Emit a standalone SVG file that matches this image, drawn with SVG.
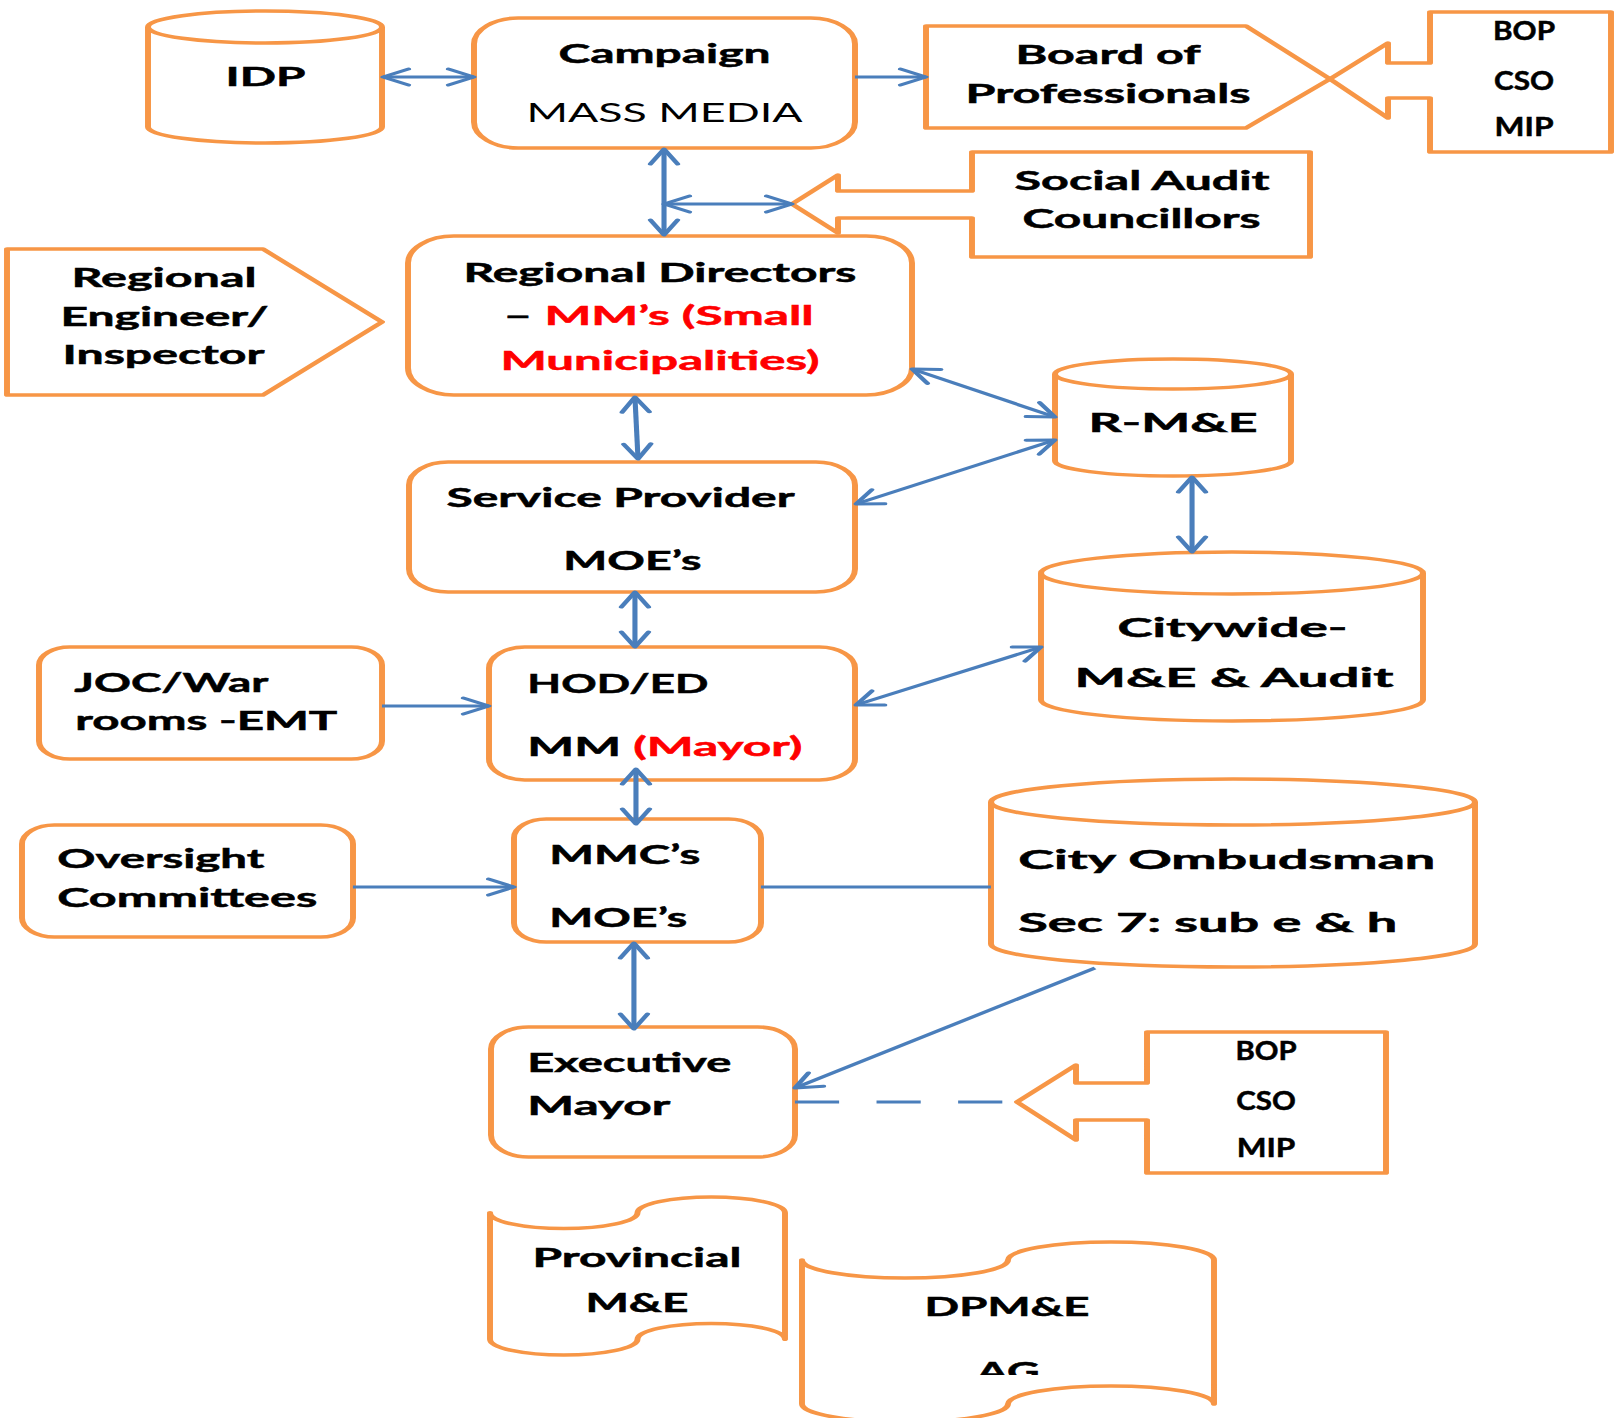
<svg xmlns="http://www.w3.org/2000/svg" width="1614" height="1418" viewBox="0 0 1614 1418">
<style>
.sh{fill:#ffffff;stroke:#f79646;stroke-width:3.5;stroke-linejoin:round}
.ln{fill:none;stroke:#f79646;stroke-width:3.5}
.t{font-family:Lato,"Open Sans","Liberation Sans",sans-serif;font-weight:bold;fill:#000000;stroke:#000000;stroke-width:0.5;font-size:27px}
.m{text-anchor:middle}
.r{fill:#ff0000;stroke:#ff0000}
.c{fill:none;stroke:#4a7ebb;stroke-width:3}
.dbl{marker-start:url(#ah);marker-end:url(#ah)}
.one{marker-end:url(#ah)}
</style>
<defs>
<marker id="ah" viewBox="-17 -10 19 20" refX="0" refY="0" markerWidth="19" markerHeight="20" markerUnits="userSpaceOnUse" orient="auto-start-reverse">
<path d="M-15,-8 L0,0 L-15,8" fill="none" stroke="#4a7ebb" stroke-width="3" stroke-linecap="round" stroke-linejoin="round"/>
</marker>
<clipPath id="agclip"><rect x="400" y="1330" width="400" height="45"/></clipPath>
</defs>
<rect x="0" y="0" width="1614" height="1418" fill="#ffffff"/>
<g transform="scale(1.7 1)">
<g id="idp">
<path class="sh" d="M87.06,27 L87.06,127 A68.82,16 0 0 0 224.71,127 L224.71,27 A68.82,16 0 0 0 87.06,27 Z"/>
<path class="ln" d="M87.06,27 A68.82,16 0 0 0 224.71,27"/>
<text class="t m" x="156.2" y="86.5" font-size="32" textLength="47" lengthAdjust="spacingAndGlyphs">IDP</text>
</g>
<g id="campaign">
<rect class="sh" x="278.82" y="18" width="224.12" height="130" rx="26" ry="26"/>
<text class="t m" x="390.9" y="63" textLength="124.7" lengthAdjust="spacingAndGlyphs">Campaign</text>
<text class="t m" x="390.9" y="122" font-size="26" style="font-weight:normal;stroke:none" textLength="162.4" lengthAdjust="spacingAndGlyphs">MASS MEDIA</text>
</g>
<g id="board">
<path class="sh" d="M544.71,26 L732.94,26 L782.35,79 L732.94,128 L544.71,128 Z"/>
<text class="t m" x="651.8" y="64" textLength="108.8" lengthAdjust="spacingAndGlyphs">Board of</text>
<text class="t m" x="651.8" y="103" textLength="167.6" lengthAdjust="spacingAndGlyphs">Professionals</text>
</g>
<g id="bop-top">
<path class="sh" d="M841.18,12 L947.65,12 L947.65,152 L841.18,152 L841.18,98 L816.47,98 L816.47,118 L782.35,79 L816.47,43 L816.47,63 L841.18,63 Z"/>
<text class="t m" x="896.5" y="40" font-size="20" textLength="36.5" lengthAdjust="spacingAndGlyphs">BOP</text>
<text class="t m" x="896.5" y="90" font-size="20" textLength="35.3" lengthAdjust="spacingAndGlyphs">CSO</text>
<text class="t m" x="896.5" y="136" font-size="20" textLength="34.7" lengthAdjust="spacingAndGlyphs">MIP</text>
</g>
<g id="social-audit">
<path class="sh" d="M571.76,152 L770.59,152 L770.59,257 L571.76,257 L571.76,218 L492.94,218 L492.94,233 L465.88,204 L492.94,175 L492.94,191 L571.76,191 Z"/>
<text class="t m" x="671.8" y="190" textLength="150" lengthAdjust="spacingAndGlyphs">Social Audit</text>
<text class="t m" x="671.5" y="228" textLength="140" lengthAdjust="spacingAndGlyphs">Councillors</text>
</g>
<g id="regional-engineer">
<path class="sh" d="M4.12,249 L154.71,249 L224.71,322 L154.71,395 L4.12,395 Z"/>
<text class="t m" x="96.5" y="287" textLength="108.8" lengthAdjust="spacingAndGlyphs">Regional</text>
<text class="t m" x="96.8" y="326" textLength="122.4" lengthAdjust="spacingAndGlyphs">Engineer/</text>
<text class="t m" x="96.2" y="364" textLength="118.8" lengthAdjust="spacingAndGlyphs">Inspector</text>
</g>
<g id="regional-directors">
<rect class="sh" x="240" y="236" width="296.47" height="159" rx="27" ry="27"/>
<text class="t m" x="388.2" y="282" font-size="26" textLength="231.2" lengthAdjust="spacingAndGlyphs">Regional Directors</text>
<text class="t m" x="387.4" y="325" font-size="26" textLength="182.4" lengthAdjust="spacingAndGlyphs">– <tspan class="r">MM’s (Small</tspan></text>
<text class="t m r" x="388.2" y="370" font-size="26" textLength="187.6" lengthAdjust="spacingAndGlyphs">Municipalities)</text>
</g>
<g id="service-provider">
<rect class="sh" x="240.59" y="462" width="262.35" height="130" rx="23" ry="23"/>
<text class="t m" x="365" y="507" font-size="26" textLength="204.7" lengthAdjust="spacingAndGlyphs">Service Provider</text>
<text class="t m" x="372" y="570" textLength="81.2" lengthAdjust="spacingAndGlyphs">MOE’s</text>
</g>
<g id="r-me">
<path class="sh" d="M620.59,374 L620.59,461 A69.41,15 0 0 0 759.41,461 L759.41,374 A69.41,15 0 0 0 620.59,374 Z"/>
<path class="ln" d="M620.59,374 A69.41,15 0 0 0 759.41,374"/>
<text class="t m" x="690" y="432" font-size="30" textLength="99.4" lengthAdjust="spacingAndGlyphs">R-M&amp;E</text>
</g>
<g id="citywide">
<path class="sh" d="M612.35,573 L612.35,700 A112.35,21 0 0 0 837.06,700 L837.06,573 A112.35,21 0 0 0 612.35,573 Z"/>
<path class="ln" d="M612.35,573 A112.35,21 0 0 0 837.06,573"/>
<text class="t m" x="725" y="637" font-size="29" textLength="135.3" lengthAdjust="spacingAndGlyphs">Citywide-</text>
<text class="t m" x="725.9" y="687" font-size="29" textLength="187.6" lengthAdjust="spacingAndGlyphs">M&amp;E &amp; Audit</text>
</g>
<g id="joc">
<rect class="sh" x="22.94" y="647" width="201.77" height="112" rx="18" ry="18"/>
<text class="t" x="43.7" y="692" textLength="114.1" lengthAdjust="spacingAndGlyphs">JOC/War</text>
<text class="t" x="44.3" y="730" textLength="154.1" lengthAdjust="spacingAndGlyphs">rooms -EMT</text>
</g>
<g id="hod">
<rect class="sh" x="287.65" y="647" width="215.29" height="133" rx="21" ry="21"/>
<text class="t" x="310.2" y="693" textLength="106.5" lengthAdjust="spacingAndGlyphs">HOD/ED</text>
<text class="t" x="310.2" y="756" textLength="161.8" lengthAdjust="spacingAndGlyphs">MM <tspan class="r">(Mayor)</tspan></text>
</g>
<g id="mmc">
<rect class="sh" x="302.35" y="819" width="145.3" height="123" rx="19" ry="19"/>
<text class="t" x="323.1" y="864" textLength="88.8" lengthAdjust="spacingAndGlyphs">MMC’s</text>
<text class="t" x="323.1" y="927" textLength="81.2" lengthAdjust="spacingAndGlyphs">MOE’s</text>
</g>
<g id="oversight">
<rect class="sh" x="12.94" y="825" width="194.71" height="112" rx="19" ry="19"/>
<text class="t" x="33.7" y="868" font-size="26" textLength="121.8" lengthAdjust="spacingAndGlyphs">Oversight</text>
<text class="t" x="33.7" y="907" font-size="26" textLength="152.9" lengthAdjust="spacingAndGlyphs">Committees</text>
</g>
<g id="ombudsman">
<path class="sh" d="M582.94,802 L582.94,944 A142.35,23 0 0 0 867.65,944 L867.65,802 A142.35,23 0 0 0 582.94,802 Z"/>
<path class="ln" d="M582.94,802 A142.35,23 0 0 0 867.65,802"/>
<text class="t" x="599" y="869" font-size="30" textLength="245.3" lengthAdjust="spacingAndGlyphs">City Ombudsman</text>
<text class="t" x="599" y="932" font-size="30" textLength="222.9" lengthAdjust="spacingAndGlyphs">Sec 7: sub e &amp; h</text>
</g>
<g id="executive-mayor">
<rect class="sh" x="288.82" y="1027" width="178.83" height="130" rx="22" ry="22"/>
<text class="t" x="310.2" y="1072" textLength="120" lengthAdjust="spacingAndGlyphs">Executive</text>
<text class="t" x="310.2" y="1115" textLength="84.1" lengthAdjust="spacingAndGlyphs">Mayor</text>
</g>
<g id="bop-bottom">
<path class="sh" d="M674.71,1032 L815.29,1032 L815.29,1173 L674.71,1173 L674.71,1120 L632.94,1120 L632.94,1140 L598.24,1102 L632.94,1065 L632.94,1083 L674.71,1083 Z"/>
<text class="t m" x="744.7" y="1060" font-size="20" textLength="36" lengthAdjust="spacingAndGlyphs">BOP</text>
<text class="t m" x="744.7" y="1110" font-size="20" textLength="35" lengthAdjust="spacingAndGlyphs">CSO</text>
<text class="t m" x="744.7" y="1157" font-size="20" textLength="34.5" lengthAdjust="spacingAndGlyphs">MIP</text>
</g>
<g id="provincial">
<path class="sh" d="M288.24,1212.8 A43.38,15.8 0 0 0 375,1212.8 A43.38,15.8 0 0 1 461.76,1212.8 L461.76,1339.2 A43.38,15.8 0 0 0 375,1339.2 A43.38,15.8 0 0 1 288.24,1339.2 Z"/>
<text class="t m" x="374.7" y="1267" textLength="122.9" lengthAdjust="spacingAndGlyphs">Provincial</text>
<text class="t m" x="374.7" y="1312" textLength="60.6" lengthAdjust="spacingAndGlyphs">M&amp;E</text>
</g>
<g id="dpme">
<path class="sh" d="M471.76,1260 A60.59,18 0 0 0 592.94,1260 A60.59,18 0 0 1 714.12,1260 L714.12,1404 A60.59,18 0 0 0 592.94,1404 A60.59,18 0 0 1 471.76,1404 Z"/>
<text class="t m" x="592.4" y="1316" textLength="97" lengthAdjust="spacingAndGlyphs">DPM&amp;E</text>
<text class="t m" x="593" y="1381" textLength="37" lengthAdjust="spacingAndGlyphs" clip-path="url(#agclip)">AG</text>
</g>
<g id="connectors">
<path class="c dbl" d="M225.3,77 L278.8,77"/>
<path class="c one" d="M502.9,77 L544.7,77"/>
<path class="c dbl" d="M390.6,149 L390.6,235"/>
<path class="c dbl" d="M390.6,204 L465.9,204"/>
<path class="c dbl" d="M373.5,397 L375.3,459"/>
<path class="c dbl" d="M536.5,369 L620.6,417"/>
<path class="c dbl" d="M503.5,504 L620.6,440"/>
<path class="c dbl" d="M701.2,477 L701.2,552"/>
<path class="c dbl" d="M373.5,592 L373.5,647"/>
<path class="c one" d="M224.7,706 L287.6,706"/>
<path class="c dbl" d="M503.5,705 L612.4,647"/>
<path class="c dbl" d="M374.1,769 L374.1,824"/>
<path class="c one" d="M207.6,887 L302.4,887"/>
<path class="c" d="M447.6,887 L582.9,887"/>
<path class="c dbl" d="M372.9,943 L372.9,1029"/>
<path class="c one" d="M644.1,968 L467.6,1088"/>
<path class="c" d="M467.6,1102 L598.2,1102" stroke-dasharray="26 22"/>
</g>
</g>
</svg>
